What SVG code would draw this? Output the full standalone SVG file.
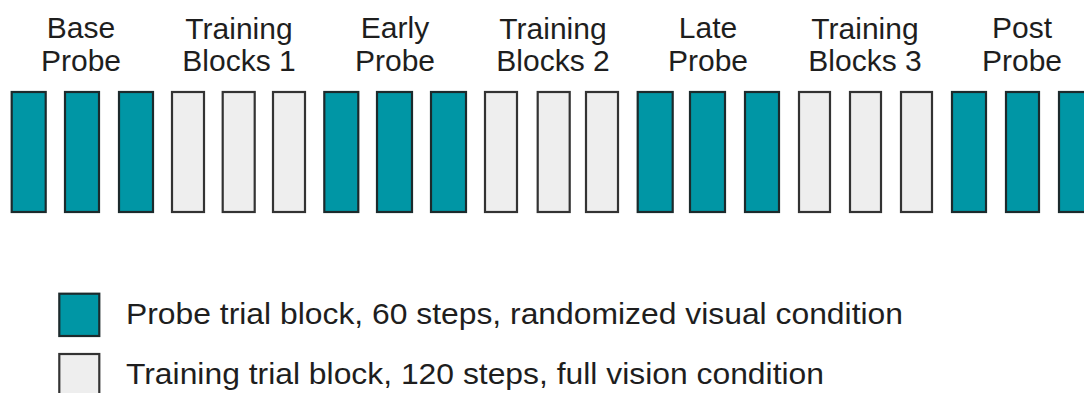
<svg xmlns="http://www.w3.org/2000/svg" width="1084" height="393" viewBox="0 0 1084 393">
  <style>
    .probe { fill: #0096a5; stroke: #1c2a2c; stroke-width: 2.2; }
    .train { fill: #eeeeee; stroke: #333333; stroke-width: 2.2; }
    .head { font-family: "Liberation Sans", Arial, sans-serif; font-size: 30px; fill: #1e1e1e; text-anchor: middle; }
    .leg { font-family: "Liberation Sans", Arial, sans-serif; font-size: 30px; fill: #1e1e1e; }
  </style>

  <!-- phase headings -->
  <g id="headings">
    <text class="head" x="81" y="38">Base</text>
    <text class="head" x="81" y="71">Probe</text>
    <text class="head" x="239" y="39">Training</text>
    <text class="head" x="239" y="71">Blocks 1</text>
    <text class="head" x="395" y="38">Early</text>
    <text class="head" x="395" y="71">Probe</text>
    <text class="head" x="553" y="39">Training</text>
    <text class="head" x="553" y="71">Blocks 2</text>
    <text class="head" x="708" y="38">Late</text>
    <text class="head" x="708" y="71">Probe</text>
    <text class="head" x="865" y="39">Training</text>
    <text class="head" x="865" y="71">Blocks 3</text>
    <text class="head" x="1022" y="38">Post</text>
    <text class="head" x="1022" y="71">Probe</text>
  </g>

  <!-- trial blocks -->
  <g id="base-probe">
    <rect class="probe" x="11.7" y="92" width="34" height="120"/>
    <rect class="probe" x="65" y="92" width="34" height="120"/>
    <rect class="probe" x="119" y="92" width="34" height="120"/>
  </g>
  <g id="training-1">
    <rect class="train" x="172" y="92" width="32" height="120"/>
    <rect class="train" x="222.7" y="92" width="32" height="120"/>
    <rect class="train" x="273" y="92" width="32" height="120"/>
  </g>
  <g id="early-probe">
    <rect class="probe" x="324.3" y="92" width="34" height="120"/>
    <rect class="probe" x="377" y="92" width="35" height="120"/>
    <rect class="probe" x="431" y="92" width="35" height="120"/>
  </g>
  <g id="training-2">
    <rect class="train" x="485" y="92" width="32" height="120"/>
    <rect class="train" x="537.7" y="92" width="32" height="120"/>
    <rect class="train" x="586" y="92" width="32" height="120"/>
  </g>
  <g id="late-probe">
    <rect class="probe" x="637.7" y="92" width="35" height="120"/>
    <rect class="probe" x="690" y="92" width="35" height="120"/>
    <rect class="probe" x="745" y="92" width="34" height="120"/>
  </g>
  <g id="training-3">
    <rect class="train" x="799" y="92" width="31" height="120"/>
    <rect class="train" x="850" y="92" width="31" height="120"/>
    <rect class="train" x="901" y="92" width="31" height="120"/>
  </g>
  <g id="post-probe">
    <rect class="probe" x="952" y="92" width="34" height="120"/>
    <rect class="probe" x="1006" y="92" width="33" height="120"/>
    <rect class="probe" x="1059" y="92" width="34" height="120"/>
  </g>

  <!-- legend -->
  <g id="legend-probe">
    <rect class="probe" x="59.3" y="293.7" width="40" height="42.3"/>
    <text class="leg" x="126" y="324" textLength="777" lengthAdjust="spacingAndGlyphs">Probe trial block, 60 steps, randomized visual condition</text>
  </g>
  <g id="legend-training">
    <rect class="train" x="59.3" y="354" width="40" height="42"/>
    <text class="leg" x="126" y="384" textLength="698" lengthAdjust="spacingAndGlyphs">Training trial block, 120 steps, full vision condition</text>
  </g>

  <g id="connectors"/>
</svg>
